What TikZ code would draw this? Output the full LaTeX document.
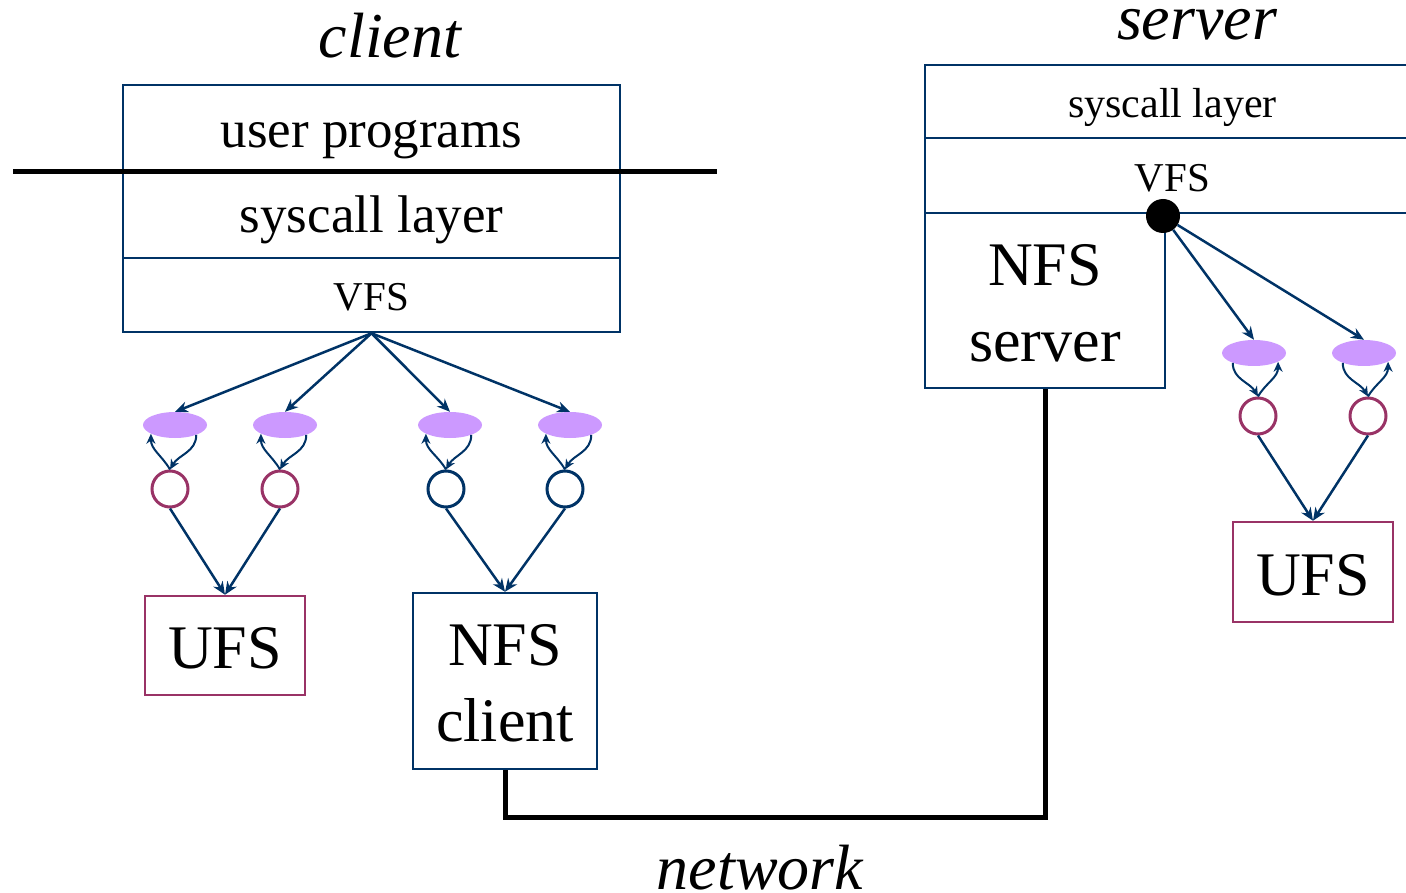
\documentclass[tikz,border=0pt]{standalone}
\usepackage{fontspec}
\setmainfont{Liberation Serif}
\usepackage{xcolor}
\usepackage{tikz}
\usetikzlibrary{shapes.geometric, arrows.meta, positioning}
\definecolor{navy}{HTML}{003366}
\definecolor{maroon}{HTML}{993366}
\definecolor{lilac}{HTML}{CC99FF}
\tikzstyle{arrow}     = [line width=2.5pt, navy, ->, >={Stealth[length=13pt,width=11pt]}]
\tikzstyle{loop}      = [line width=2pt, navy, ->, >={Stealth[length=10pt,width=9pt]}]
\tikzstyle{layer}     = [rectangle, draw=navy, line width=2.5pt, inner sep=0pt, text depth=0pt]
\tikzstyle{fsbox}     = [rectangle, line width=2.5pt, inner sep=0pt, align=center, text depth=0pt]
\tikzstyle{vnode}     = [ellipse, fill=lilac, minimum width=64pt, minimum height=26pt, inner sep=0pt]
\tikzstyle{inode}     = [circle, draw, line width=3pt, minimum size=36pt, inner sep=0pt]
\tikzset{every node/.style={align=center}}

\begin{document}
\begin{tikzpicture}[x=1pt, y=-1pt]
    \useasboundingbox (0,0) rectangle (1406,893);

    % client side
    \node (title)  at (390, 58)    [anchor=base, font=\fontsize{64}{70}\selectfont\itshape] {client};
    \node (user)   at (371.5, 128.5) [layer, minimum width=497pt, minimum height=87pt, text height=39pt, font=\fontsize{53}{60}\selectfont] {user programs};
    \node (sys)    at (371.5, 215)   [layer, minimum width=497pt, minimum height=86pt, text height=36pt, font=\fontsize{53}{60}\selectfont] {syscall layer};
    \node (vfs)    at (371.5, 295)   [layer, minimum width=497pt, minimum height=74pt, text height=31pt, font=\fontsize{41}{48}\selectfont] {VFS};
    \coordinate (kl) at (13, 172);
    \coordinate (kr) at (717, 172);
    \draw [line width=5pt] (kl) -- (kr);

    \node (v1) at (175, 425) [vnode] {};
    \node (v2) at (285, 425) [vnode] {};
    \node (v3) at (450, 425) [vnode] {};
    \node (v4) at (570, 425) [vnode] {};
    \node (i1) at (170, 489) [inode, draw=maroon] {};
    \node (i2) at (280, 489) [inode, draw=maroon] {};
    \node (i3) at (446, 489) [inode, draw=navy] {};
    \node (i4) at (565, 489) [inode, draw=navy] {};

    \node (ufs)    at (225, 645.5) [fsbox, draw=maroon, minimum width=160pt, minimum height=99pt, text height=46pt, font=\fontsize{62}{74}\selectfont] {UFS};
    \node (nfsc)   at (505, 681)   [fsbox, draw=navy, minimum width=184pt, minimum height=176pt, text height=121pt, font=\fontsize{62}{76}\selectfont] {NFS\\client};

    \foreach \v in {v1, v2, v3, v4}
        \draw [arrow] (vfs.south) -- (\v.north);
    \foreach \n in {1, 2, 3, 4} {
        \draw [loop] (v\n.-25) to[out=-90, in=60] (i\n.north);
        \draw [loop] (i\n.north) to[out=120, in=-90] (v\n.200);
    }
    \draw [arrow] (i1.south) -- (ufs.north);
    \draw [arrow] (i2.south) -- (ufs.north);
    \draw [arrow] (i3.south) -- (nfsc.north);
    \draw [arrow] (i4.south) -- (nfsc.north);

    % server side
    \node (stitle) at (1197, 40)   [anchor=base, font=\fontsize{64}{70}\selectfont\itshape] {server};
    \node (ssys)   at (1172.5, 101.5) [layer, minimum width=495pt, minimum height=73pt, text height=33pt, font=\fontsize{42}{48}\selectfont] {syscall layer};
    \node (svfs)   at (1172.5, 175.5) [layer, minimum width=495pt, minimum height=75pt, text height=33pt, font=\fontsize{41}{48}\selectfont] {VFS};
    \node (nfss)   at (1045, 300.5)   [fsbox, draw=navy, minimum width=240pt, minimum height=175pt, text height=123pt, font=\fontsize{62}{76}\selectfont] {NFS\\server};
    \node (dot)    at (1163, 216)     [circle, fill=black, minimum size=34pt, inner sep=0pt] {};

    \node (sv1) at (1254, 353) [vnode] {};
    \node (sv2) at (1364, 353) [vnode] {};
    \node (si1) at (1258, 416) [inode, draw=maroon] {};
    \node (si2) at (1368, 416) [inode, draw=maroon] {};
    \node (sufs) at (1313, 572) [fsbox, draw=maroon, minimum width=160pt, minimum height=100pt, text height=46pt, font=\fontsize{62}{74}\selectfont] {UFS};

    \draw [arrow] (dot) -- (sv1.north);
    \draw [arrow] (dot) -- (sv2.north);
    \foreach \n in {1, 2} {
        \draw [loop] (sv\n.205) to[out=-90, in=120] (si\n.north);
        \draw [loop] (si\n.north) to[out=60, in=-90] (sv\n.-20);
    }
    \draw [arrow] (si1.south) -- (sufs.north);
    \draw [arrow] (si2.south) -- (sufs.north);

    % network
    \draw [line width=5pt] (nfsc.south) -- ++(0, 47) -| (nfss.south);
    \node (net) at (760, 889) [anchor=base, font=\fontsize{64}{70}\selectfont\itshape] {network};
\end{tikzpicture}
\end{document}
